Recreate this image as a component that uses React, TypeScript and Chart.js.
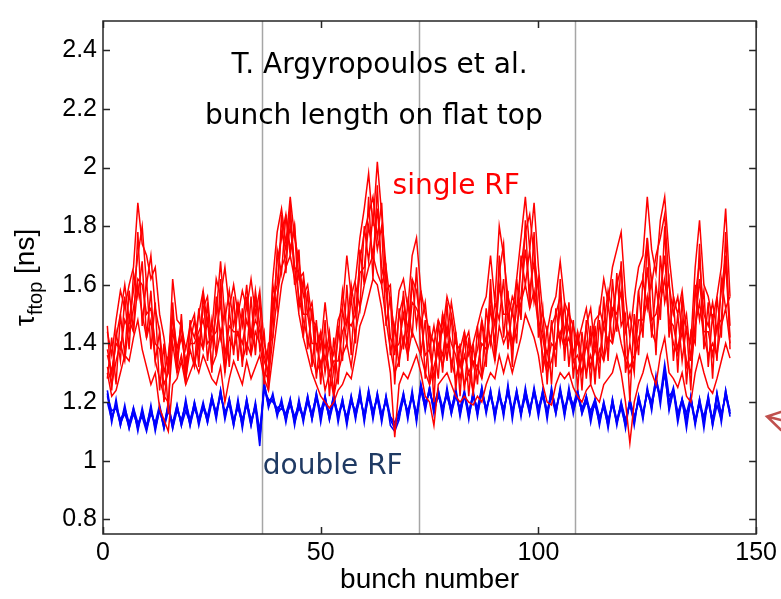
import React, { useEffect, useRef } from "react";
import { Chart, registerables } from "chart.js";

Chart.register(...registerables);

// bunch numbers (x)
const bunches: number[] = Array.from({ length: 144 }, (_, i) => i + 1);
const xTicks = [0, 50, 100, 150];
const yTicks = [0.8, 1.0, 1.2, 1.4, 1.6, 1.8, 2.0, 2.2, 2.4];
const batchEdges = [36.5, 72.5, 108.5];

// single RF: bunch length on flat top [ns], several acquisitions
const singleRF_1 = [
  1.44,1.36,1.48,1.58,1.52,1.60,1.66,1.88,1.74,1.70,
  1.62,1.66,1.50,1.42,1.30,1.62,1.48,1.46,1.38,1.46,
  1.42,1.50,1.58,1.46,1.44,1.62,1.56,1.66,1.52,1.60,
  1.50,1.58,1.52,1.62,1.50,1.58,1.40,1.34,1.62,1.78,
  1.86,1.74,1.90,1.76,1.68,1.56,1.60,1.48,1.46,1.38,
  1.54,1.40,1.36,1.48,1.52,1.70,1.56,1.62,1.76,1.86,
  1.98,1.80,2.02,1.84,1.66,1.54,1.44,1.58,1.62,1.52,
  1.70,1.76,1.58,1.50,1.44,1.40,1.48,1.44,1.56,1.50,
  1.40,1.38,1.44,1.36,1.40,1.46,1.52,1.56,1.70,1.54,
  1.80,1.70,1.56,1.50,1.62,1.76,1.90,1.72,1.88,1.66,
  1.50,1.44,1.52,1.56,1.68,1.54,1.50,1.46,1.40,1.46,
  1.52,1.40,1.48,1.50,1.62,1.54,1.66,1.72,1.78,1.56,
  1.42,1.56,1.66,1.70,1.90,1.72,1.64,1.82,1.90,1.70,
  1.56,1.50,1.58,1.44,1.40,1.66,1.82,1.60,1.56,1.48,
  1.56,1.66,1.86,1.56,
];
const singleRF_2 = [
  1.38,1.30,1.42,1.50,1.60,1.48,1.58,1.70,1.80,1.60,
  1.70,1.52,1.44,1.30,1.36,1.50,1.38,1.46,1.32,1.40,
  1.48,1.38,1.52,1.56,1.40,1.50,1.68,1.48,1.58,1.46,
  1.54,1.46,1.60,1.42,1.58,1.46,1.36,1.30,1.50,1.68,
  1.76,1.84,1.72,1.80,1.62,1.64,1.50,1.54,1.38,1.44,
  1.34,1.44,1.30,1.42,1.58,1.46,1.60,1.50,1.68,1.78,
  1.84,1.90,1.76,1.88,1.58,1.60,1.36,1.50,1.56,1.44,
  1.62,1.58,1.46,1.54,1.38,1.46,1.36,1.50,1.42,1.54,
  1.44,1.32,1.40,1.44,1.32,1.38,1.48,1.40,1.56,1.46,
  1.64,1.74,1.48,1.56,1.52,1.66,1.78,1.84,1.70,1.58,
  1.44,1.36,1.46,1.50,1.56,1.44,1.52,1.36,1.44,1.34,
  1.46,1.52,1.38,1.52,1.46,1.58,1.50,1.60,1.66,1.44,
  1.50,1.40,1.58,1.62,1.76,1.60,1.70,1.76,1.84,1.60,
  1.50,1.56,1.44,1.50,1.34,1.56,1.68,1.50,1.46,1.54,
  1.44,1.58,1.70,1.46,
];
const singleRF_3 = [
  1.32,1.26,1.34,1.40,1.34,1.48,1.44,1.60,1.50,1.42,
  1.48,1.34,1.28,1.22,1.20,1.40,1.30,1.36,1.28,1.38,
  1.32,1.42,1.38,1.48,1.32,1.36,1.44,1.30,1.42,1.38,
  1.44,1.34,1.40,1.36,1.44,1.40,1.30,1.28,1.42,1.56,
  1.66,1.70,1.80,1.66,1.56,1.48,1.42,1.36,1.30,1.34,
  1.24,1.30,1.22,1.30,1.36,1.40,1.32,1.44,1.52,1.60,
  1.66,1.70,1.64,1.60,1.48,1.38,1.30,1.34,1.42,1.36,
  1.44,1.40,1.36,1.30,1.26,1.32,1.38,1.32,1.40,1.34,
  1.28,1.34,1.26,1.30,1.24,1.32,1.28,1.36,1.42,1.34,
  1.46,1.40,1.44,1.38,1.46,1.54,1.60,1.52,1.58,1.46,
  1.36,1.30,1.34,1.40,1.44,1.38,1.42,1.34,1.30,1.36,
  1.30,1.36,1.30,1.38,1.34,1.42,1.40,1.48,1.40,1.34,
  1.30,1.34,1.42,1.46,1.56,1.44,1.40,1.54,1.62,1.48,
  1.40,1.36,1.44,1.34,1.30,1.46,1.54,1.42,1.36,1.40,
  1.36,1.46,1.52,1.40,
];
const singleRF_4 = [
  1.30,1.22,1.24,1.30,1.36,1.34,1.42,1.48,1.38,1.32,
  1.26,1.30,1.18,1.14,1.10,1.26,1.28,1.34,1.26,1.30,
  1.34,1.30,1.36,1.32,1.28,1.26,1.32,1.20,1.28,1.34,
  1.30,1.26,1.34,1.28,1.32,1.36,1.28,1.24,1.36,1.48,
  1.60,1.66,1.70,1.62,1.50,1.42,1.36,1.30,1.26,1.22,
  1.20,1.18,1.20,1.24,1.26,1.30,1.28,1.36,1.46,1.50,
  1.56,1.62,1.60,1.52,1.40,1.30,1.08,1.26,1.30,1.28,
  1.32,1.36,1.30,1.22,1.20,1.12,1.26,1.28,1.30,1.26,
  1.22,1.20,1.22,1.20,1.19,1.22,1.20,1.26,1.30,1.28,
  1.36,1.30,1.36,1.30,1.36,1.42,1.50,1.46,1.42,1.36,
  1.26,1.20,1.19,1.26,1.30,1.28,1.30,1.25,1.22,1.20,
  1.24,1.26,1.22,1.20,1.26,1.28,1.30,1.36,1.30,1.20,
  1.06,1.20,1.26,1.30,1.36,1.30,1.26,1.36,1.42,1.30,
  1.28,1.25,1.30,1.22,1.20,1.30,1.36,1.30,1.25,1.23,
  1.28,1.34,1.40,1.35,
];
const singleRF_5 = [
  1.46,1.24,1.44,1.34,1.56,1.38,1.64,1.56,1.68,1.42,
  1.58,1.34,1.44,1.20,1.34,1.50,1.30,1.50,1.26,1.48,
  1.32,1.52,1.38,1.54,1.30,1.56,1.42,1.52,1.32,1.56,
  1.34,1.52,1.36,1.56,1.36,1.56,1.26,1.40,1.42,1.72,
  1.64,1.84,1.70,1.80,1.52,1.62,1.38,1.52,1.28,1.44,
  1.30,1.40,1.22,1.46,1.34,1.60,1.36,1.60,1.52,1.80,
  1.68,1.84,1.72,1.80,1.46,1.56,1.26,1.52,1.38,1.54,
  1.42,1.66,1.36,1.48,1.26,1.40,1.28,1.50,1.34,1.50,
  1.24,1.40,1.24,1.42,1.22,1.46,1.28,1.52,1.40,1.54,
  1.48,1.62,1.38,1.52,1.40,1.70,1.60,1.72,1.54,1.62,
  1.30,1.46,1.26,1.52,1.40,1.54,1.32,1.48,1.24,1.44,
  1.28,1.46,1.26,1.48,1.34,1.54,1.40,1.64,1.46,1.50,
  1.20,1.50,1.36,1.62,1.52,1.62,1.36,1.70,1.54,1.62,
  1.34,1.50,1.34,1.46,1.24,1.60,1.48,1.58,1.32,1.50,
  1.34,1.62,1.52,1.56,
];
const singleRF_6 = [
  1.28,1.42,1.26,1.50,1.36,1.58,1.44,1.78,1.46,1.62,
  1.38,1.54,1.24,1.40,1.16,1.54,1.32,1.48,1.28,1.46,
  1.50,1.32,1.58,1.34,1.48,1.36,1.62,1.30,1.52,1.36,
  1.54,1.32,1.56,1.36,1.56,1.38,1.44,1.24,1.60,1.52,
  1.84,1.64,1.88,1.60,1.72,1.42,1.58,1.32,1.48,1.26,
  1.48,1.22,1.42,1.26,1.52,1.40,1.56,1.40,1.72,1.60,
  1.90,1.62,1.94,1.60,1.66,1.36,1.46,1.32,1.58,1.34,
  1.62,1.46,1.58,1.28,1.46,1.20,1.48,1.30,1.54,1.30,
  1.44,1.22,1.44,1.22,1.40,1.26,1.48,1.32,1.62,1.34,
  1.70,1.42,1.58,1.32,1.62,1.48,1.82,1.52,1.78,1.42,
  1.52,1.26,1.48,1.32,1.62,1.34,1.54,1.28,1.44,1.24,
  1.48,1.26,1.46,1.28,1.56,1.34,1.62,1.44,1.68,1.30,
  1.40,1.30,1.58,1.42,1.76,1.42,1.60,1.48,1.80,1.42,
  1.56,1.30,1.56,1.26,1.44,1.40,1.74,1.38,1.54,1.28,
  1.56,1.42,1.78,1.38,
];
const singleRF_7 = [
  1.36,1.30,1.40,1.38,1.48,1.44,1.52,1.62,1.60,1.50,
  1.52,1.40,1.38,1.26,1.30,1.44,1.36,1.42,1.34,1.40,
  1.40,1.44,1.48,1.40,1.42,1.44,1.54,1.36,1.46,1.44,
  1.44,1.40,1.48,1.42,1.48,1.44,1.34,1.30,1.54,1.60,
  1.78,1.72,1.84,1.66,1.64,1.50,1.50,1.40,1.40,1.32,
  1.40,1.30,1.34,1.34,1.44,1.48,1.46,1.50,1.64,1.66,
  1.80,1.70,1.86,1.66,1.58,1.42,1.38,1.40,1.50,1.40,
  1.54,1.52,1.48,1.36,1.38,1.28,1.40,1.36,1.46,1.40,
  1.36,1.28,1.36,1.30,1.34,1.32,1.40,1.38,1.52,1.40,
  1.60,1.50,1.50,1.40,1.52,1.56,1.72,1.58,1.68,1.48,
  1.42,1.32,1.40,1.38,1.52,1.40,1.46,1.34,1.36,1.30,
  1.40,1.32,1.38,1.34,1.46,1.40,1.52,1.50,1.58,1.36,
  1.32,1.36,1.48,1.48,1.66,1.48,1.50,1.58,1.70,1.48,
  1.46,1.38,1.48,1.32,1.36,1.46,1.62,1.44,1.44,1.36,
  1.46,1.48,1.68,1.42,
];

// double RF
const doubleRF_1 = [
  1.24,1.15,1.19,1.12,1.18,1.13,1.17,1.11,1.16,1.12,1.18,1.11,
  1.17,1.12,1.19,1.12,1.18,1.13,1.20,1.14,1.19,1.13,1.18,1.14,
  1.21,1.15,1.23,1.16,1.20,1.13,1.19,1.12,1.20,1.14,1.18,1.05,
  1.26,1.20,1.22,1.17,1.20,1.15,1.19,1.14,1.20,1.15,1.21,1.16,
  1.22,1.15,1.21,1.16,1.22,1.15,1.20,1.14,1.21,1.16,1.22,1.15,
  1.23,1.16,1.22,1.15,1.21,1.14,1.11,1.16,1.22,1.16,1.23,1.15,
  1.25,1.19,1.24,1.18,1.23,1.17,1.24,1.18,1.23,1.17,1.22,1.16,
  1.23,1.17,1.24,1.18,1.22,1.16,1.23,1.17,1.24,1.16,1.23,1.17,
  1.24,1.18,1.23,1.17,1.22,1.16,1.24,1.18,1.23,1.17,1.24,1.18,
  1.23,1.18,1.21,1.15,1.20,1.14,1.19,1.13,1.20,1.14,1.19,1.13,
  1.20,1.14,1.21,1.15,1.24,1.18,1.27,1.21,1.30,1.20,1.25,1.16,
  1.20,1.13,1.21,1.14,1.20,1.13,1.21,1.14,1.22,1.15,1.23,1.17,
];
const doubleRF_2 = [
  1.22,1.17,1.18,1.13,1.16,1.12,1.18,1.13,1.15,1.10,1.17,1.12,
  1.18,1.11,1.17,1.13,1.19,1.12,1.17,1.13,1.20,1.14,1.19,1.15,
  1.22,1.16,1.24,1.15,1.21,1.14,1.18,1.13,1.21,1.13,1.19,1.08,
  1.24,1.21,1.20,1.18,1.19,1.14,1.20,1.15,1.19,1.14,1.20,1.15,
  1.23,1.16,1.20,1.15,1.21,1.16,1.19,1.15,1.22,1.15,1.21,1.16,
  1.24,1.17,1.21,1.14,1.22,1.15,1.13,1.17,1.23,1.15,1.22,1.16,
  1.26,1.20,1.23,1.19,1.24,1.18,1.22,1.17,1.24,1.16,1.23,1.17,
  1.22,1.16,1.23,1.17,1.23,1.17,1.22,1.16,1.25,1.17,1.22,1.16,
  1.23,1.17,1.24,1.18,1.23,1.17,1.23,1.17,1.24,1.18,1.22,1.17,
  1.22,1.17,1.22,1.16,1.19,1.13,1.20,1.14,1.19,1.13,1.18,1.12,
  1.21,1.15,1.20,1.16,1.23,1.19,1.26,1.22,1.33,1.22,1.24,1.16,
  1.21,1.14,1.20,1.13,1.21,1.14,1.20,1.13,1.23,1.16,1.22,1.16,
];
const doubleRF_3 = [
  1.20,1.14,1.19,1.14,1.17,1.11,1.16,1.12,1.17,1.11,1.16,1.13,
  1.19,1.12,1.18,1.11,1.17,1.14,1.19,1.12,1.18,1.14,1.20,1.13,
  1.20,1.17,1.22,1.17,1.19,1.12,1.20,1.14,1.19,1.12,1.20,1.10,
  1.25,1.19,1.21,1.16,1.18,1.16,1.21,1.13,1.18,1.15,1.22,1.14,
  1.21,1.17,1.22,1.14,1.20,1.15,1.21,1.13,1.20,1.17,1.23,1.14,
  1.22,1.15,1.23,1.16,1.20,1.15,1.12,1.15,1.21,1.17,1.22,1.14,
  1.24,1.18,1.25,1.17,1.22,1.18,1.23,1.16,1.22,1.18,1.24,1.15,
  1.22,1.18,1.25,1.17,1.24,1.15,1.22,1.18,1.23,1.17,1.24,1.16,
  1.22,1.16,1.25,1.17,1.24,1.16,1.22,1.16,1.25,1.16,1.23,1.19,
  1.24,1.16,1.20,1.17,1.21,1.15,1.18,1.12,1.21,1.13,1.20,1.14,
  1.19,1.13,1.22,1.16,1.24,1.20,1.28,1.22,1.30,1.18,1.24,1.15,
  1.21,1.16,1.22,1.13,1.19,1.15,1.22,1.12,1.19,1.14,1.24,1.16,
];
const doubleRF_4 = [
  1.23,1.13,1.21,1.12,1.19,1.11,1.18,1.10,1.18,1.11,1.19,1.10,
  1.18,1.11,1.20,1.11,1.19,1.12,1.21,1.12,1.20,1.12,1.19,1.13,
  1.22,1.14,1.24,1.14,1.21,1.12,1.21,1.11,1.21,1.12,1.19,1.07,
  1.27,1.18,1.23,1.15,1.21,1.13,1.21,1.12,1.21,1.13,1.22,1.14,
  1.23,1.13,1.22,1.14,1.23,1.13,1.21,1.12,1.22,1.14,1.24,1.13,
  1.24,1.14,1.23,1.13,1.22,1.12,1.10,1.14,1.23,1.14,1.24,1.13,
  1.26,1.17,1.25,1.16,1.24,1.15,1.25,1.16,1.25,1.15,1.23,1.14,
  1.24,1.15,1.25,1.16,1.24,1.14,1.24,1.15,1.26,1.14,1.24,1.15,
  1.25,1.16,1.24,1.15,1.24,1.14,1.25,1.16,1.24,1.15,1.25,1.16,
  1.24,1.16,1.22,1.13,1.21,1.12,1.20,1.11,1.21,1.12,1.20,1.11,
  1.21,1.12,1.22,1.14,1.25,1.17,1.29,1.19,1.31,1.17,1.24,1.13,
  1.21,1.11,1.22,1.12,1.21,1.11,1.22,1.12,1.23,1.13,1.24,1.15,
];

const singleTraces = [singleRF_1, singleRF_2, singleRF_3, singleRF_4, singleRF_5, singleRF_6, singleRF_7];
const doubleTraces = [doubleRF_1, doubleRF_2, doubleRF_3, doubleRF_4];

const AXIS_FONT = "'Liberation Sans', Arial, sans-serif";
const NOTE_FONT = "'DejaVu Sans', Tahoma, sans-serif";

const overlay = {
  id: "overlay",
  beforeDatasetsDraw(chart: any) {
    const { ctx, chartArea: a, scales } = chart;
    const x = scales.x;
    ctx.save();
    ctx.strokeStyle = "#a6a6a6";
    ctx.lineWidth = 1.5;
    for (const b of batchEdges) {
      const px = Math.round(x.getPixelForValue(b)) + 0.5;
      ctx.beginPath();
      ctx.moveTo(px, a.top);
      ctx.lineTo(px, a.bottom);
      ctx.stroke();
    }
    ctx.restore();
  },
  afterDatasetsDraw(chart: any) {
    const { ctx, chartArea: a, scales } = chart;
    const x = scales.x;
    const y = scales.y;
    ctx.save();
    // box
    ctx.strokeStyle = "#262626";
    ctx.lineWidth = 1.5;
    ctx.strokeRect(a.left, a.top, a.right - a.left, a.bottom - a.top);
    // inward ticks
    ctx.beginPath();
    for (const v of yTicks) {
      const py = Math.round(y.getPixelForValue(v)) + 0.5;
      ctx.moveTo(a.left, py); ctx.lineTo(a.left + 7, py);
      ctx.moveTo(a.right, py); ctx.lineTo(a.right - 7, py);
    }
    for (const v of xTicks) {
      const px = Math.round(x.getPixelForValue(v)) + 0.5;
      ctx.moveTo(px, a.bottom); ctx.lineTo(px, a.bottom - 7);
      ctx.moveTo(px, a.top); ctx.lineTo(px, a.top + 7);
    }
    ctx.stroke();

    // annotations
    ctx.fillStyle = "#000";
    ctx.font = `28px ${NOTE_FONT}`;
    ctx.textAlign = "center";
    ctx.textBaseline = "alphabetic";
    ctx.fillText("T. Argyropoulos et al.", x.getPixelForValue(63.5), y.getPixelForValue(2.323));
    ctx.fillText("bunch length on flat top", x.getPixelForValue(62.2), y.getPixelForValue(2.149));
    ctx.textAlign = "left";
    ctx.fillStyle = "#ff0000";
    ctx.fillText("single RF", x.getPixelForValue(66.5), y.getPixelForValue(1.909));
    ctx.fillStyle = "#1f3a63";
    ctx.fillText("double RF", x.getPixelForValue(36.7), y.getPixelForValue(0.954));

    // x axis title
    ctx.fillStyle = "#000";
    ctx.font = `28px ${AXIS_FONT}`;
    ctx.textAlign = "center";
    ctx.fillText("bunch number", (a.left + a.right) / 2, 588);

    // y axis title with subscript
    const main1 = "\u03c4";
    const sub = "ftop";
    const main2 = " [ns]";
    const bigFont = `28px ${AXIS_FONT}`;
    const subFont = `20px ${AXIS_FONT}`;
    ctx.font = bigFont;
    const w1 = ctx.measureText(main1).width;
    const w3 = ctx.measureText(main2).width;
    ctx.font = subFont;
    const w2 = ctx.measureText(sub).width;
    const total = w1 + w2 + w3;
    ctx.translate(34, (a.top + a.bottom) / 2);
    ctx.rotate(-Math.PI / 2);
    ctx.textAlign = "left";
    let cx = -total / 2;
    ctx.font = bigFont;
    ctx.fillText(main1, cx, 0);
    cx += w1;
    ctx.font = subFont;
    ctx.fillText(sub, cx, 8);
    cx += w2;
    ctx.font = bigFont;
    ctx.fillText(main2, cx, 0);
    ctx.restore();

    // arrow at right edge
    ctx.save();
    ctx.strokeStyle = "#c0504d";
    ctx.lineWidth = 2.5;
    ctx.lineCap = "round";
    ctx.beginPath();
    ctx.moveTo(781, 412); ctx.lineTo(767, 416.5); ctx.lineTo(781, 430);
    ctx.moveTo(767, 416.5); ctx.lineTo(781, 420);
    ctx.stroke();
    ctx.restore();
  },
};

export default function App() {
  const canvasRef = useRef<HTMLCanvasElement | null>(null);

  useEffect(() => {
    const canvas = canvasRef.current;
    if (!canvas) return;
    const toPoints = (arr: number[]) => arr.map((v, i) => ({ x: bunches[i], y: v }));
    const datasets: any[] = [];
    singleTraces.forEach((t, i) =>
      datasets.push({
        label: `single RF ${i + 1}`,
        data: toPoints(t),
        borderColor: "#ff0000",
        borderWidth: 1.5,
        pointRadius: 0,
        fill: false,
        tension: 0,
      })
    );
    doubleTraces.forEach((t, i) =>
      datasets.push({
        label: `double RF ${i + 1}`,
        data: toPoints(t),
        borderColor: "#0000ff",
        borderWidth: 1.6,
        pointRadius: 0,
        fill: false,
        tension: 0,
      })
    );
    const chart = new Chart(canvas, {
      type: "line",
      data: { datasets },
      options: {
        animation: false,
        responsive: false,
        devicePixelRatio: 1,
        layout: { padding: { left: 0, right: 24, top: 10, bottom: 0 } },
        plugins: { legend: { display: false }, tooltip: { enabled: false } },
        scales: {
          x: {
            type: "linear",
            min: 0,
            max: 150,
            afterBuildTicks: (s: any) => {
              s.ticks = xTicks.map((v) => ({ value: v }));
            },
            afterFit: (s: any) => {
              s.height = 65;
            },
            grid: { display: false, drawTicks: false },
            border: { display: false },
            ticks: {
              color: "#000",
              font: { family: AXIS_FONT, size: 25 },
              padding: 4,
              maxRotation: 0,
              autoSkip: false,
              callback: (v: any) => String(v),
            },
          },
          y: {
            type: "linear",
            min: 0.75,
            max: 2.5,
            afterBuildTicks: (s: any) => {
              s.ticks = yTicks.map((v) => ({ value: v }));
            },
            afterFit: (s: any) => {
              s.width = 103;
            },
            grid: { display: false, drawTicks: false },
            border: { display: false },
            ticks: {
              color: "#000",
              font: { family: AXIS_FONT, size: 25 },
              padding: 6,
              autoSkip: false,
              callback: (v: any) => String(Number(Number(v).toFixed(1))),
            },
          },
        },
      },
      plugins: [overlay],
    });
    return () => chart.destroy();
  }, []);

  return (
    <div style={{ position: "absolute", left: 0, top: 0, width: 781, height: 599, background: "#fff" }}>
      <canvas ref={canvasRef} width={781} height={599} style={{ display: "block" }} />
    </div>
  );
}
